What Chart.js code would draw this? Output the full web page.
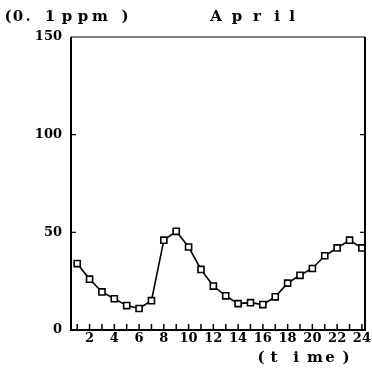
<!DOCTYPE html>
<html>
<head>
<meta charset="utf-8">
<script src="https://cdn.jsdelivr.net/npm/chart.js@4/dist/chart.umd.min.js"></script>
<style>
html,body{margin:0;padding:0;background:#fff;}
#wrap{width:372px;height:373px;position:relative;}
</style>
</head>
<body>
<div id="wrap"><canvas id="c" width="372" height="373"></canvas></div>
<script>
const hours = [1,2,3,4,5,6,7,8,9,10,11,12,13,14,15,16,17,18,19,20,21,22,23,24];
const values = [34,26,19.5,16,12.5,11,15,46,50.5,42.5,31,22.5,17.5,13.5,14,13,17,24,28,31.5,38,42,46,42];
const yTicks = [0,50,100,150];
const xLabels = ['2','4','6','8','10','12','14','16','18','20','22','24'];
const titleUnit = '(0. 1ppm)';
const titleMonth = 'April';
const xTitle = '(time)';

const FONT = '"DejaVu Serif", serif';

// character centres for the spaced (typewriter-like) captions
const unitPos = [8, 18, 28, null, 50, 67, 83, 100, 125];
const monthPos = [216, 237, 257, 277, 292];
const timePos = [261, 274, 296, 315, 330, 346];

function placedText(ctx, text, xs, y){
  for (let i=0;i<text.length;i++){
    if (xs[i]==null || text[i]===' ') continue;
    ctx.fillText(text[i], xs[i], y);
  }
}

const framePlugin = {
  id:'frame',
  afterDraw(chart){
    const ctx = chart.ctx;
    const a = chart.chartArea;
    const xs = chart.scales.x, ys = chart.scales.y;
    ctx.save();
    ctx.strokeStyle = '#000';
    ctx.lineCap = 'butt';
    ctx.lineWidth = 2;
    ctx.beginPath(); ctx.moveTo(a.left, a.top); ctx.lineTo(a.left, a.bottom+1); ctx.stroke();
    ctx.beginPath(); ctx.moveTo(a.left, a.bottom); ctx.lineTo(a.right, a.bottom); ctx.stroke();
    ctx.beginPath(); ctx.moveTo(a.right, a.top); ctx.lineTo(a.right, a.bottom+1); ctx.stroke();
    ctx.lineWidth = 1.2;
    ctx.beginPath(); ctx.moveTo(a.left, a.top); ctx.lineTo(a.right, a.top); ctx.stroke();
    ctx.lineWidth = 1.5;
    hours.forEach(h=>{
      const px = xs.getPixelForValue(h);
      ctx.beginPath(); ctx.moveTo(px, a.bottom); ctx.lineTo(px, a.bottom-6); ctx.stroke();
    });
    ctx.lineWidth = 1.2;
    yTicks.slice(1,3).forEach(v=>{
      const py = ys.getPixelForValue(v);
      ctx.beginPath(); ctx.moveTo(a.left, py); ctx.lineTo(a.left+5, py); ctx.stroke();
      ctx.beginPath(); ctx.moveTo(a.right, py); ctx.lineTo(a.right-5, py); ctx.stroke();
    });
    ctx.fillStyle = '#000';
    ctx.textBaseline = 'middle';
    ctx.textAlign = 'center';
    ctx.font = 'bold 15px ' + FONT;
    placedText(ctx, titleUnit, unitPos, 17);
    placedText(ctx, titleMonth, monthPos, 17);
    placedText(ctx, xTitle, timePos, 358);
    ctx.restore();
  }
};

new Chart(document.getElementById('c'), {
  type:'line',
  data:{
    datasets:[{
      data: hours.map((h,i)=>({x:h, y:values[i]})),
      borderColor:'#000',
      borderWidth:1.6,
      pointStyle:'rect',
      pointRadius:4.3,
      pointBorderWidth:1.6,
      pointBackgroundColor:'#fff',
      pointBorderColor:'#000',
      tension:0,
      fill:false
    }]
  },
  options:{
    responsive:false,
    animation:false,
    devicePixelRatio:1,
    layout:{padding:{top:37,right:2,left:0,bottom:0}},
    plugins:{legend:{display:false},tooltip:{enabled:false},title:{display:false}},
    scales:{
      x:{
        type:'linear',
        min:0.5, max:24.25,
        grid:{display:false, drawTicks:false},
        border:{display:false},
        afterBuildTicks(s){ s.ticks = hours.filter(h=>h%2===0).map(v=>({value:v})); },
        afterFit(s){ s.height = 43; },
        ticks:{
          autoSkip:false, maxRotation:0, padding:1,
          color:'#000',
          font:{family:FONT, size:13, weight:'bold'},
          callback:(v)=> xLabels.includes(String(v)) ? String(v) : ''
        }
      },
      y:{
        min:0, max:150,
        grid:{display:false, drawTicks:false},
        border:{display:false},
        afterBuildTicks(s){ s.ticks = yTicks.map(v=>({value:v})); },
        afterFit(s){ s.width = 71; },
        ticks:{
          padding:9, color:'#000',
          font:{family:FONT, size:13, weight:'bold'}
        }
      }
    }
  },
  plugins:[framePlugin]
});
</script>
</body>
</html>
